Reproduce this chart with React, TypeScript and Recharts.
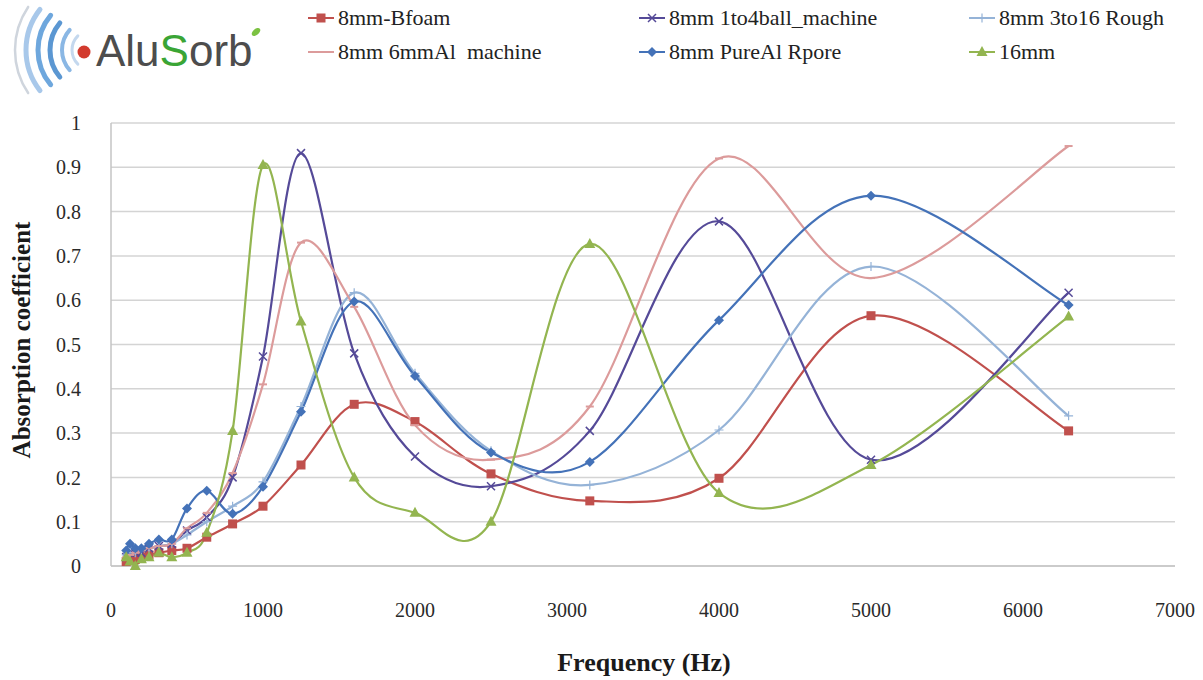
import React from "react";
import { LineChart, Line, XAxis, YAxis, CartesianGrid, Label } from "recharts";

// 1/3 octave band centre frequencies (Hz)
const FREQS = [100, 125, 160, 200, 250, 315, 400, 500, 630, 800, 1000, 1250, 1600, 2000, 2500, 3150, 4000, 5000, 6300];

const BFOAM = [0.01, 0.015, 0.015, 0.02, 0.025, 0.03, 0.035, 0.04, 0.065, 0.095, 0.135, 0.228, 0.365, 0.326, 0.208, 0.147, 0.198, 0.565, 0.305];
const BALL = [0.02, 0.03, 0.03, 0.03, 0.04, 0.045, 0.05, 0.08, 0.11, 0.2, 0.473, 0.932, 0.48, 0.247, 0.18, 0.305, 0.778, 0.24, 0.617];
const ROUGH = [0.025, 0.03, 0.03, 0.035, 0.04, 0.045, 0.05, 0.07, 0.1, 0.135, 0.19, 0.36, 0.617, 0.435, 0.26, 0.183, 0.307, 0.676, 0.339];
const AL6 = [0.02, 0.025, 0.03, 0.035, 0.04, 0.045, 0.05, 0.085, 0.12, 0.21, 0.41, 0.73, 0.585, 0.318, 0.24, 0.36, 0.92, 0.65, 0.948];
const PURE = [0.035, 0.05, 0.04, 0.04, 0.05, 0.06, 0.06, 0.13, 0.17, 0.118, 0.179, 0.348, 0.597, 0.429, 0.256, 0.235, 0.555, 0.836, 0.589];
const MM16 = [0.02, 0.01, 0.0, 0.015, 0.02, 0.03, 0.02, 0.03, 0.075, 0.305, 0.905, 0.552, 0.2, 0.12, 0.1, 0.727, 0.165, 0.228, 0.563];

const X_TICKS = [0, 1000, 2000, 3000, 4000, 5000, 6000, 7000];
const Y_TICKS = [0, 0.1, 0.2, 0.3, 0.4, 0.5, 0.6, 0.7, 0.8, 0.9, 1];

const SERIES = [
  { key: "bfoam", name: "8mm-Bfoam", color: "#c0504d", shape: "square", values: BFOAM },
  { key: "ball", name: "8mm 1to4ball_machine", color: "#554a98", shape: "x", values: BALL },
  { key: "rough", name: "8mm 3to16 Rough", color: "#95b3d7", shape: "plus", values: ROUGH },
  { key: "al6", name: "8mm 6mmAl  machine", color: "#dc9b9b", shape: "dash", values: AL6 },
  { key: "pure", name: "8mm PureAl Rpore", color: "#4472b8", shape: "diamond", values: PURE },
  { key: "mm16", name: "16mm", color: "#93b550", shape: "triangle", values: MM16 },
];

const data = FREQS.map((f, i) => {
  const row: any = { f };
  SERIES.forEach((s) => (row[s.key] = s.values[i]));
  return row;
});

// excel style smoothed line (catmull-rom through the points)
const excelSmooth = (context: any) => {
  let pts: number[][] = [];
  return {
    areaStart() {},
    areaEnd() {},
    lineStart() {
      pts = [];
    },
    point(x: number, y: number) {
      pts.push([+x, +y]);
    },
    lineEnd() {
      const n = pts.length;
      if (!n) return;
      context.moveTo(pts[0][0], pts[0][1]);
      for (let i = 0; i < n - 1; i++) {
        const p0 = pts[Math.max(i - 1, 0)];
        const p1 = pts[i];
        const p2 = pts[i + 1];
        const p3 = pts[Math.min(i + 2, n - 1)];
        context.bezierCurveTo(
          p1[0] + (p2[0] - p0[0]) / 6,
          p1[1] + (p2[1] - p0[1]) / 6,
          p2[0] - (p3[0] - p1[0]) / 6,
          p2[1] - (p3[1] - p1[1]) / 6,
          p2[0],
          p2[1]
        );
      }
    },
  };
};

const Marker = ({ cx, cy, shape, color }: any) => {
  if (cx == null || cy == null) return null;
  switch (shape) {
    case "square":
      return <rect x={cx - 4.5} y={cy - 4.5} width={9} height={9} fill={color} />;
    case "diamond":
      return <path d={`M${cx},${cy - 5}L${cx + 5},${cy}L${cx},${cy + 5}L${cx - 5},${cy}Z`} fill={color} />;
    case "triangle":
      return <path d={`M${cx},${cy - 6}L${cx + 5.5},${cy + 4}L${cx - 5.5},${cy + 4}Z`} fill={color} />;
    case "x":
      return (
        <path
          d={`M${cx - 4},${cy - 4}L${cx + 4},${cy + 4}M${cx - 4},${cy + 4}L${cx + 4},${cy - 4}`}
          stroke={color}
          strokeWidth={1.5}
        />
      );
    case "plus":
      return (
        <path d={`M${cx - 4.5},${cy}L${cx + 4.5},${cy}M${cx},${cy - 4.5}L${cx},${cy + 4.5}`} stroke={color} strokeWidth={1.2} />
      );
    default:
      return <path d={`M${cx - 4},${cy}L${cx + 4},${cy}`} stroke={color} strokeWidth={2} />;
  }
};

const LEGEND_POS = [
  { left: 306, top: 18 },
  { left: 637, top: 18 },
  { left: 967, top: 18 },
  { left: 306, top: 52 },
  { left: 637, top: 52 },
  { left: 967, top: 52 },
];

const Logo = () => {
  const cx = 92;
  const cy = 50;
  const arcs = [
    { r: 77, a: 34, c: "#cfd5dd", w: 2.5 },
    { r: 66, a: 38, c: "#a8c8ea", w: 5 },
    { r: 54, a: 40, c: "#6ea7dd", w: 5 },
    { r: 42, a: 40, c: "#5b97d2", w: 5 },
    { r: 30, a: 42, c: "#8ab7e4", w: 4 },
    { r: 20, a: 45, c: "#c4d8ee", w: 3 },
  ];
  return (
    <svg width={300} height={100} style={{ position: "absolute", left: 0, top: 0 }}>
      {arcs.map((o, i) => {
        const rad = (o.a * Math.PI) / 180;
        const x = cx - o.r * Math.cos(rad);
        const y1 = cy - o.r * Math.sin(rad);
        const y2 = cy + o.r * Math.sin(rad);
        return (
          <path
            key={i}
            d={`M${x},${y1}A${o.r},${o.r} 0 0 0 ${x},${y2}`}
            fill="none"
            stroke={o.c}
            strokeWidth={o.w}
            strokeLinecap="round"
          />
        );
      })}
      <circle cx={84} cy={52} r={6.5} fill="#d23a2e" />
      <text x={96} y={66} fontFamily="Liberation Sans, Arial" fontSize={44} fill="#4d4d4d">
        Alu<tspan fill="#3aa535">S</tspan>orb
      </text>
      <ellipse cx={256} cy={32} rx={5} ry={3} fill="#7cc242" transform="rotate(-40 256 32)" />
    </svg>
  );
};

const App = () => {
  return (
    <div
      style={{
        position: "absolute",
        left: 0,
        top: 0,
        width: 1203,
        height: 680,
        background: "#fff",
        fontFamily: "Liberation Serif, Times New Roman, serif",
      }}
    >
      <Logo />

      {/* LEGEND */}
      {SERIES.map((s, i) => (
        <div
          key={s.key}
          style={{
            position: "absolute",
            left: LEGEND_POS[i].left,
            top: LEGEND_POS[i].top - 13,
            height: 26,
            display: "flex",
            alignItems: "center",
            fontSize: 22,
            color: "#222",
            whiteSpace: "pre",
          }}
        >
          <svg width={30} height={16} style={{ marginRight: 2 }}>
            <line x1={2} y1={8} x2={28} y2={8} stroke={s.color} strokeWidth={2} />
            <Marker cx={15} cy={8} shape={s.shape} color={s.color} />
          </svg>
          {s.name}
        </div>
      ))}

      <LineChart width={1203} height={680} data={data} margin={{ top: 123, right: 28, left: 81, bottom: 64 }}>
        <CartesianGrid horizontal vertical={false} stroke="#d4d4d4" strokeWidth={1.5} />
        <XAxis
          dataKey="f"
          type="number"
          domain={[0, 7000]}
          ticks={X_TICKS}
          height={50}
          tickSize={0}
          tickMargin={37}
          stroke="#c4c4c4"
          strokeWidth={1.5}
          tick={{ fontSize: 20, fill: "#2a2a2a", fontFamily: "Liberation Serif" }}
        >
          <Label
            content={() => (
              <text x={644} y={671} textAnchor="middle" fontSize={26} fontWeight="bold" fill="#1a1a1a" fontFamily="Liberation Serif">
                Frequency (Hz)
              </text>
            )}
          />
        </XAxis>
        <YAxis
          type="number"
          domain={[0, 1]}
          ticks={Y_TICKS}
          width={30}
          tickSize={0}
          tickMargin={30}
          stroke="#c4c4c4"
          strokeWidth={1.5}
          tick={{ fontSize: 20, fill: "#2a2a2a", fontFamily: "Liberation Serif" }}
        >
          <Label
            content={() => (
              <text
                x={30}
                y={340}
                transform="rotate(-90 30 340)"
                textAnchor="middle"
                fontSize={25}
                fontWeight="bold"
                fill="#1a1a1a"
                fontFamily="Liberation Serif"
              >
                Absorption coefficient
              </text>
            )}
          />
        </YAxis>
        {SERIES.map((s) => (
          <Line
            key={s.key}
            dataKey={s.key}
            name={s.name}
            type={excelSmooth as any}
            stroke={s.color}
            strokeWidth={2.2}
            isAnimationActive={false}
            activeDot={false}
            dot={(p: any) => <Marker key={`${s.key}-${p.index}`} cx={p.cx} cy={p.cy} shape={s.shape} color={s.color} />}
          />
        ))}
      </LineChart>
    </div>
  );
};

export default App;
